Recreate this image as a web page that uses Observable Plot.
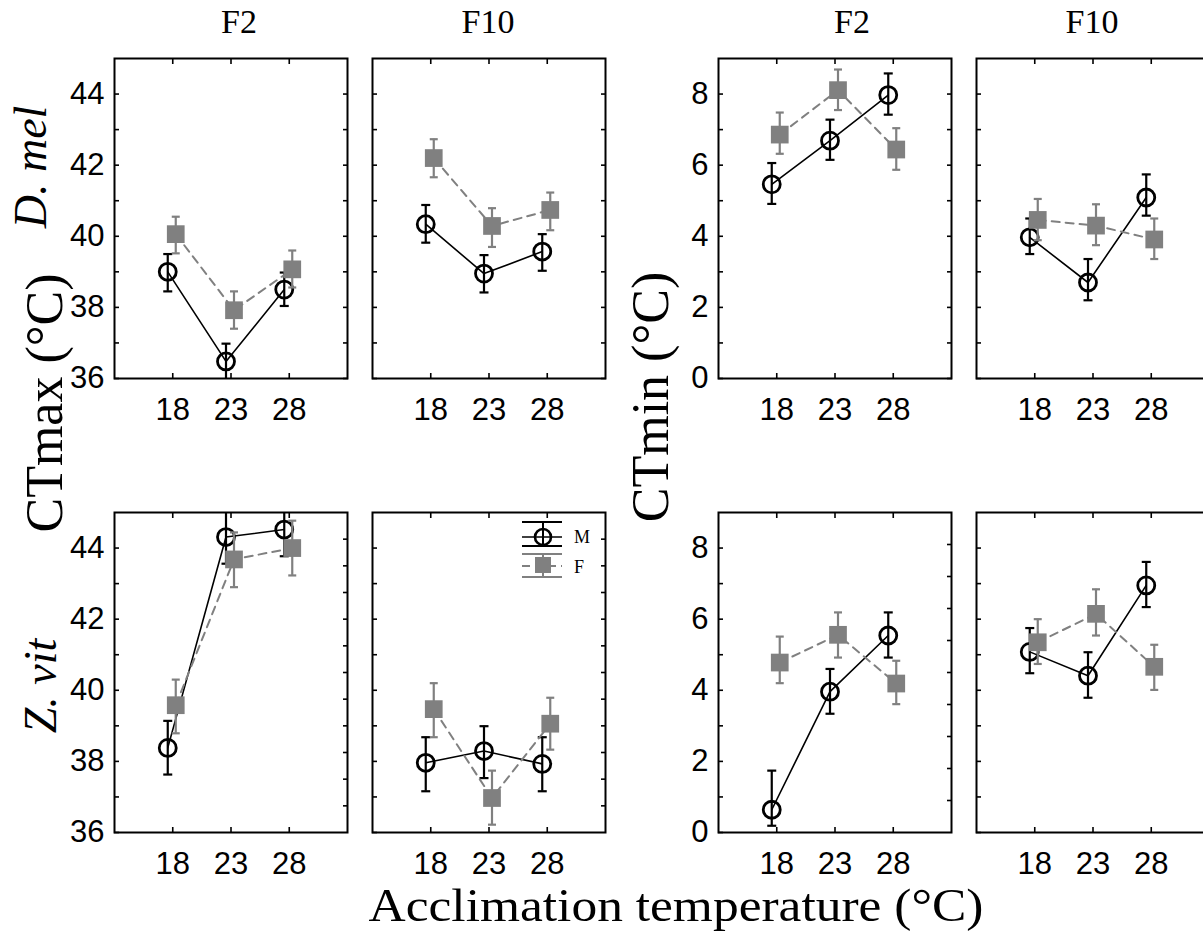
<!DOCTYPE html>
<html>
<head>
<meta charset="utf-8">
<script src="https://cdn.jsdelivr.net/npm/d3@7"></script>
<script src="https://cdn.jsdelivr.net/npm/@observablehq/plot@0.6"></script>
<style>
  html, body { margin: 0; padding: 0; background: #fff; }
  #fig { position: relative; width: 1203px; height: 936px; overflow: hidden; background: #fff; }
  #fig .panel { position: absolute; }
  #fig svg { overflow: visible; max-width: none !important; }
  #overlay { position: absolute; left: 0; top: 0; pointer-events: none; }
</style>
</head>
<body>
<div id="fig"></div>
<script>
// ---------------- data ----------------
const temps = [18, 23, 28];               // acclimation temperature (°C)
const generations = ["F2", "F10"];
const speciesNames = ["D. mel", "Z. vit"];
const traitNames = ["CTmax (°C)", "CTmin (°C)"];
const sexLabels = ["M", "F"];

// rows: [sex, temperature, mean, lower bar end, upper bar end]
const dmelCTmaxF2 = [
  ["M", 18, 39.00, 38.45, 39.50], ["M", 23, 36.48, 35.98, 36.98], ["M", 28, 38.50, 38.04, 38.98],
  ["F", 18, 40.06, 39.52, 40.55], ["F", 23, 37.92, 37.40, 38.45], ["F", 28, 39.07, 38.56, 39.60]
];
const dmelCTmaxF10 = [
  ["M", 18, 40.34, 39.82, 40.88], ["M", 23, 38.95, 38.42, 39.47], ["M", 28, 39.57, 39.03, 40.06],
  ["F", 18, 42.20, 41.66, 42.73], ["F", 23, 40.29, 39.70, 40.79], ["F", 28, 40.74, 40.17, 41.23]
];
const dmelCTminF2 = [
  ["M", 18, 5.46, 4.91, 6.06], ["M", 23, 6.69, 6.15, 7.28], ["M", 28, 7.97, 7.42, 8.58],
  ["F", 18, 6.86, 6.32, 7.48], ["F", 23, 8.11, 7.55, 8.69], ["F", 28, 6.44, 5.87, 7.04]
];
const dmelCTminF10 = [
  ["M", 18, 3.97, 3.50, 4.50], ["M", 23, 2.70, 2.20, 3.36], ["M", 28, 5.09, 4.58, 5.74],
  ["F", 18, 4.46, 3.89, 5.05], ["F", 23, 4.30, 3.75, 4.90], ["F", 28, 3.91, 3.36, 4.50]
];
const zvitCTmaxF2 = [
  ["M", 18, 38.38, 37.63, 39.14], ["M", 23, 44.31, 43.56, 45.06], ["M", 28, 44.52, 43.77, 45.27],
  ["F", 18, 39.58, 38.79, 40.30], ["F", 23, 43.68, 42.90, 44.44], ["F", 28, 44.00, 43.23, 44.77]
];
const zvitCTmaxF10 = [
  ["M", 18, 37.96, 37.16, 38.68], ["M", 23, 38.29, 37.53, 38.99], ["M", 28, 37.93, 37.16, 38.68],
  ["F", 18, 39.47, 38.68, 40.20], ["F", 23, 36.97, 36.22, 37.74], ["F", 28, 39.06, 38.33, 39.79]
];
const zvitCTminF2 = [
  ["M", 18, 0.64, 0.19, 1.74], ["M", 23, 3.96, 3.34, 4.60], ["M", 28, 5.54, 4.92, 6.19],
  ["F", 18, 4.78, 4.20, 5.51], ["F", 23, 5.56, 4.92, 6.19], ["F", 28, 4.19, 3.61, 4.83]
];
const zvitCTminF10 = [
  ["M", 18, 5.08, 4.48, 5.75], ["M", 23, 4.41, 3.79, 5.07], ["M", 28, 6.95, 6.34, 7.61],
  ["F", 18, 5.35, 4.74, 6.00], ["F", 23, 6.15, 5.54, 6.84], ["F", 28, 4.66, 4.01, 5.28]
];

// axis domains and tick values
const ctmaxDomain = [36, 45];
const ctminDomain = [0, 9];
const xDomain = [13, 33];
const ctmaxTicks = d3.range(36, 45, 1);
const ctminTicks = d3.range(0, 9, 1);
const ctmaxRightTicksZvit = d3.range(1, 12).map(k => 36 + k * 0.75);
const ctminRightTicksZvit = d3.range(1, 10).map(k => k * 0.9);

// ---------------- layout / style ----------------
const GRAY = "#808080";
const PW = 233, PH = 320;          // panel frame size
const ML = 70, MR = 6, MT = 6, MB = 60;
const colLeft = [114, 372, 718, 976];
const rowTop = [58, 512];

const capSymbol = {
  draw(ctx, size) {
    const w = Math.sqrt(size / Math.PI);
    ctx.moveTo(-w, 0);
    ctx.lineTo(w, 0);
  }
};

function toRecords(rows) {
  return rows.map(([sex, temp, mean, lo, hi]) => ({sex, temp, mean, lo, hi}));
}

function panel({rows, domain, leftTicks, rightTicks, labelStep, showY, col, row}) {
  const data = toRecords(rows);
  const M = data.filter(d => d.sex === "M");
  const F = data.filter(d => d.sex === "F");
  const dxM = -5, dxF = 3;
  const W = PW + ML + MR, H = PH + MT + MB;
  const chart = Plot.plot({
    width: W,
    height: H,
    marginLeft: ML, marginRight: MR, marginTop: MT, marginBottom: MB,
    x: {domain: xDomain, label: null},
    y: {domain: domain, label: null},
    style: {
      fontFamily: "'Liberation Sans', Arial, sans-serif",
      fontSize: "31px",
      color: "#000",
      background: "transparent",
      overflow: "visible",
      maxWidth: "none"
    },
    marks: [
      Plot.axisY({ticks: leftTicks, tickSize: -5, tickPadding: 15, strokeWidth: 1.6,
        tickFormat: d => (showY && Math.round(d) % labelStep === 0) ? String(d) : "", label: null}),
      Plot.axisY({anchor: "right", ticks: rightTicks, tickSize: -5, strokeWidth: 1.6,
        tickFormat: () => "", label: null}),
      Plot.axisX({ticks: temps, tickSize: -5, tickPadding: 24, strokeWidth: 1.6,
        tickFormat: d => String(d), label: null}),
      Plot.axisX({anchor: "top", ticks: temps, tickSize: -5, strokeWidth: 1.6,
        tickFormat: () => "", label: null}),
      // males
      Plot.line(M, {x: "temp", y: "mean", stroke: "#000", strokeWidth: 1.6, dx: dxM}),
      Plot.ruleX(M, {x: "temp", y1: "lo", y2: "hi", stroke: "#000", strokeWidth: 2.2, dx: dxM, clip: true}),
      Plot.dot(M, {x: "temp", y: "lo", symbol: capSymbol, r: 4.5, stroke: "#000", strokeWidth: 2.2, fill: "none", dx: dxM, clip: true}),
      Plot.dot(M, {x: "temp", y: "hi", symbol: capSymbol, r: 4.5, stroke: "#000", strokeWidth: 2.2, fill: "none", dx: dxM, clip: true}),
      Plot.dot(M, {x: "temp", y: "mean", r: 8.5, stroke: "#000", strokeWidth: 2.8, fill: "none", dx: dxM}),
      // females
      Plot.line(F, {x: "temp", y: "mean", stroke: GRAY, strokeWidth: 2, strokeDasharray: "8,6", dx: dxF}),
      Plot.ruleX(F, {x: "temp", y1: "lo", y2: "hi", stroke: GRAY, strokeWidth: 2.2, dx: dxF, clip: true}),
      Plot.dot(F, {x: "temp", y: "lo", symbol: capSymbol, r: 4, stroke: GRAY, strokeWidth: 2.2, fill: "none", dx: dxF, clip: true}),
      Plot.dot(F, {x: "temp", y: "hi", symbol: capSymbol, r: 4, stroke: GRAY, strokeWidth: 2.2, fill: "none", dx: dxF, clip: true}),
      Plot.dot(F, {x: "temp", y: "mean", symbol: "square", r: 10, fill: GRAY, stroke: "none", dx: dxF}),
      Plot.frame({stroke: "#000", strokeWidth: 2})
    ]
  });
  const wrap = document.createElement("div");
  wrap.className = "panel";
  wrap.style.left = (colLeft[col] - ML) + "px";
  wrap.style.top = (rowTop[row] - MT) + "px";
  wrap.style.width = W + "px";
  wrap.style.height = H + "px";
  wrap.appendChild(chart);
  document.getElementById("fig").appendChild(wrap);
}

const ctmaxRight = ctmaxTicks;
const ctminRight = ctminTicks;
panel({rows: dmelCTmaxF2, domain: ctmaxDomain, leftTicks: ctmaxTicks, rightTicks: ctmaxRight, labelStep: 2, showY: true, col: 0, row: 0});
panel({rows: dmelCTmaxF10, domain: ctmaxDomain, leftTicks: ctmaxTicks, rightTicks: ctmaxRight, labelStep: 2, showY: false, col: 1, row: 0});
panel({rows: dmelCTminF2, domain: ctminDomain, leftTicks: ctminTicks, rightTicks: ctminRight, labelStep: 2, showY: true, col: 2, row: 0});
panel({rows: dmelCTminF10, domain: ctminDomain, leftTicks: ctminTicks, rightTicks: ctminRight, labelStep: 2, showY: false, col: 3, row: 0});
panel({rows: zvitCTmaxF2, domain: ctmaxDomain, leftTicks: ctmaxTicks, rightTicks: ctmaxRightTicksZvit, labelStep: 2, showY: true, col: 0, row: 1});
panel({rows: zvitCTmaxF10, domain: ctmaxDomain, leftTicks: ctmaxTicks, rightTicks: ctmaxRightTicksZvit, labelStep: 2, showY: false, col: 1, row: 1});
panel({rows: zvitCTminF2, domain: ctminDomain, leftTicks: ctminTicks, rightTicks: ctminRightTicksZvit, labelStep: 2, showY: true, col: 2, row: 1});
panel({rows: zvitCTminF10, domain: ctminDomain, leftTicks: ctminTicks, rightTicks: ctminRightTicksZvit, labelStep: 2, showY: false, col: 3, row: 1});

// ---------------- overlay text & legend ----------------
const svg = d3.select("#fig").append("svg")
  .attr("id", "overlay").attr("width", 1203).attr("height", 936)
  .style("font-family", "'Liberation Serif', 'Times New Roman', serif");

const titleX = [239, 488, 852, 1092];
[0, 1, 2, 3].forEach(i => {
  svg.append("text").attr("x", titleX[i]).attr("y", 33).attr("text-anchor", "middle")
    .attr("font-size", 34).text(generations[i % 2]);
});

function vtext(x, y, size, str, italic, len) {
  const t = svg.append("text").attr("transform", `translate(${x},${y}) rotate(-90)`)
    .attr("text-anchor", "middle").attr("font-size", size).text(str);
  if (italic) t.attr("font-style", "italic");
  if (len) t.attr("textLength", len).attr("lengthAdjust", "spacingAndGlyphs");
  return t;
}
vtext(46, 167, 46, speciesNames[0], true);
vtext(56, 686, 46, speciesNames[1], true);
vtext(62, 403, 52, traitNames[0], false);
vtext(668, 397, 52, traitNames[1], false);

svg.append("text").attr("x", 676).attr("y", 921).attr("text-anchor", "middle")
  .attr("font-size", 47).attr("textLength", 615).attr("lengthAdjust", "spacingAndGlyphs")
  .text("Acclimation temperature (°C)");

// legend (inside Z. vit CTmax F10 panel)
const lg = svg.append("g").attr("transform", `translate(${colLeft[1]},${rowTop[1]})`);
// M
lg.append("line").attr("x1", 150).attr("x2", 190).attr("y1", 10).attr("y2", 10).attr("stroke", "#000").attr("stroke-width", 2);
lg.append("line").attr("x1", 150).attr("x2", 190).attr("y1", 34).attr("y2", 34).attr("stroke", "#000").attr("stroke-width", 2);
lg.append("line").attr("x1", 150).attr("x2", 190).attr("y1", 25).attr("y2", 25).attr("stroke", "#000").attr("stroke-width", 1.6);
lg.append("line").attr("x1", 171).attr("x2", 171).attr("y1", 10).attr("y2", 34).attr("stroke", "#000").attr("stroke-width", 2);
lg.append("circle").attr("cx", 171).attr("cy", 25).attr("r", 8).attr("fill", "none").attr("stroke", "#000").attr("stroke-width", 2.6);
lg.append("text").attr("x", 202).attr("y", 31).attr("font-size", 18).text(sexLabels[0]);
// F
lg.append("line").attr("x1", 150).attr("x2", 190).attr("y1", 42).attr("y2", 42).attr("stroke", GRAY).attr("stroke-width", 2);
lg.append("line").attr("x1", 150).attr("x2", 190).attr("y1", 65).attr("y2", 65).attr("stroke", GRAY).attr("stroke-width", 2);
lg.append("line").attr("x1", 150).attr("x2", 190).attr("y1", 54).attr("y2", 54).attr("stroke", GRAY).attr("stroke-width", 2).attr("stroke-dasharray", "8,5");
lg.append("line").attr("x1", 171).attr("x2", 171).attr("y1", 42).attr("y2", 65).attr("stroke", GRAY).attr("stroke-width", 2);
lg.append("rect").attr("x", 163).attr("y", 45).attr("width", 16).attr("height", 16).attr("fill", GRAY);
lg.append("text").attr("x", 202).attr("y", 61).attr("font-size", 18).text(sexLabels[1]);
</script>
</body>
</html>
